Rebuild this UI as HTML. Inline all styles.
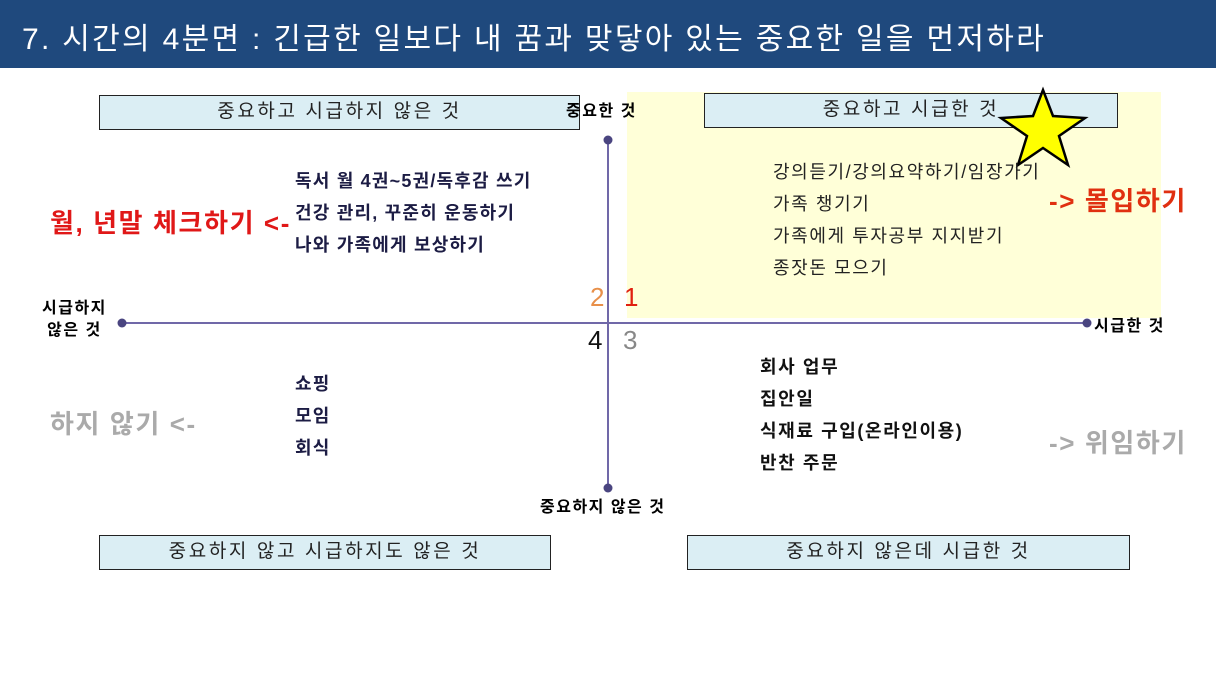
<!DOCTYPE html>
<html><head><meta charset="utf-8"><style>
body{margin:0;width:1216px;height:684px;background:#fff;position:relative;overflow:hidden;font-family:"Liberation Sans","Noto Sans CJK KR",sans-serif}
.a{position:absolute;white-space:nowrap}
.box{position:absolute;background:#dbeef4;border:1.5px solid #222;box-sizing:border-box;text-align:center;font-size:19px;color:#222;letter-spacing:2.6px}
.l{font-size:18px;font-weight:bold;color:#1c1c44;line-height:32px;letter-spacing:1.2px}
.ax{font-size:16px;font-weight:bold;letter-spacing:1.5px}
.big{font-size:26px;font-weight:bold;letter-spacing:1.6px}
</style></head><body>
<div class="a" style="left:0;top:0;width:1216px;height:68px;background:#1f497d"></div>
<div class="a" style="left:22px;top:14px;font-size:30px;color:#fff;letter-spacing:2.3px">7. 시간의 4분면 : 긴급한 일보다 내 꿈과 맞닿아 있는 중요한 일을 먼저하라</div>
<div class="a" style="left:627px;top:92px;width:534px;height:226px;background:#ffffd8"></div>
<div class="box" style="left:99px;top:95px;width:481px;height:35px;line-height:32px">중요하고 시급하지 않은 것</div>
<div class="box" style="left:704px;top:93px;width:414px;height:35px;line-height:32px">중요하고 시급한 것</div>
<div class="box" style="left:99px;top:535px;width:452px;height:35px;line-height:32px">중요하지 않고 시급하지도 않은 것</div>
<div class="box" style="left:687px;top:535px;width:443px;height:35px;line-height:32px">중요하지 않은데 시급한 것</div>
<svg class="a" style="left:0;top:0" width="1216" height="684">
<line x1="608" y1="140" x2="608" y2="488" stroke="#7068a8" stroke-width="2"/>
<line x1="122" y1="323" x2="1087" y2="323" stroke="#7068a8" stroke-width="2"/>
<circle cx="608" cy="140" r="4.5" fill="#4a4580"/><circle cx="608" cy="488" r="4.5" fill="#4a4580"/>
<circle cx="122" cy="323" r="4.5" fill="#4a4580"/><circle cx="1087" cy="323" r="4.5" fill="#4a4580"/>
<polygon points="1043,90 1053,116 1085,118 1059,136 1068,165 1043,148 1018,165 1027,136 1001,118 1033,116" fill="#ffff00" stroke="#000" stroke-width="2.5"/>
</svg>
<div class="a ax" style="left:566px;top:97px">중요한 것</div>
<div class="a ax" style="left:540px;top:493px">중요하지 않은 것</div>
<div class="a ax" style="left:1094px;top:312px">시급한 것</div>
<div class="a ax" style="left:42px;top:298px;text-align:center;line-height:22px">시급하지<br>않은 것</div>
<div class="a" style="left:590px;top:282px;font-size:26px;color:#e8904a">2</div>
<div class="a" style="left:624px;top:282px;font-size:26px;color:#e02010">1</div>
<div class="a" style="left:588px;top:325px;font-size:26px;color:#111">4</div>
<div class="a" style="left:623px;top:325px;font-size:26px;color:#888">3</div>
<div class="a l" style="left:295px;top:165px">독서 월 4권~5권/독후감 쓰기<br>건강 관리, 꾸준히 운동하기<br>나와 가족에게 보상하기</div>
<div class="a l" style="left:773px;top:156px;font-weight:normal;color:#222;letter-spacing:1.6px">강의듣기/강의요약하기/임장가기<br>가족 챙기기<br>가족에게 투자공부 지지받기<br>종잣돈 모으기</div>
<div class="a l" style="left:295px;top:368px">쇼핑<br>모임<br>회식</div>
<div class="a l" style="left:760px;top:351px;color:#111;letter-spacing:1.6px">회사 업무<br>집안일<br>식재료 구입(온라인이용)<br>반찬 주문</div>
<div class="a big" style="left:50px;top:203px;color:#e01818">월, 년말 체크하기 &lt;-</div>
<div class="a big" style="left:1049px;top:181px;color:#e03010">-&gt; 몰입하기</div>
<div class="a big" style="left:50px;top:404px;color:#aaa">하지 않기 &lt;-</div>
<div class="a big" style="left:1049px;top:423px;color:#aaa">-&gt; 위임하기</div>
</body></html>
